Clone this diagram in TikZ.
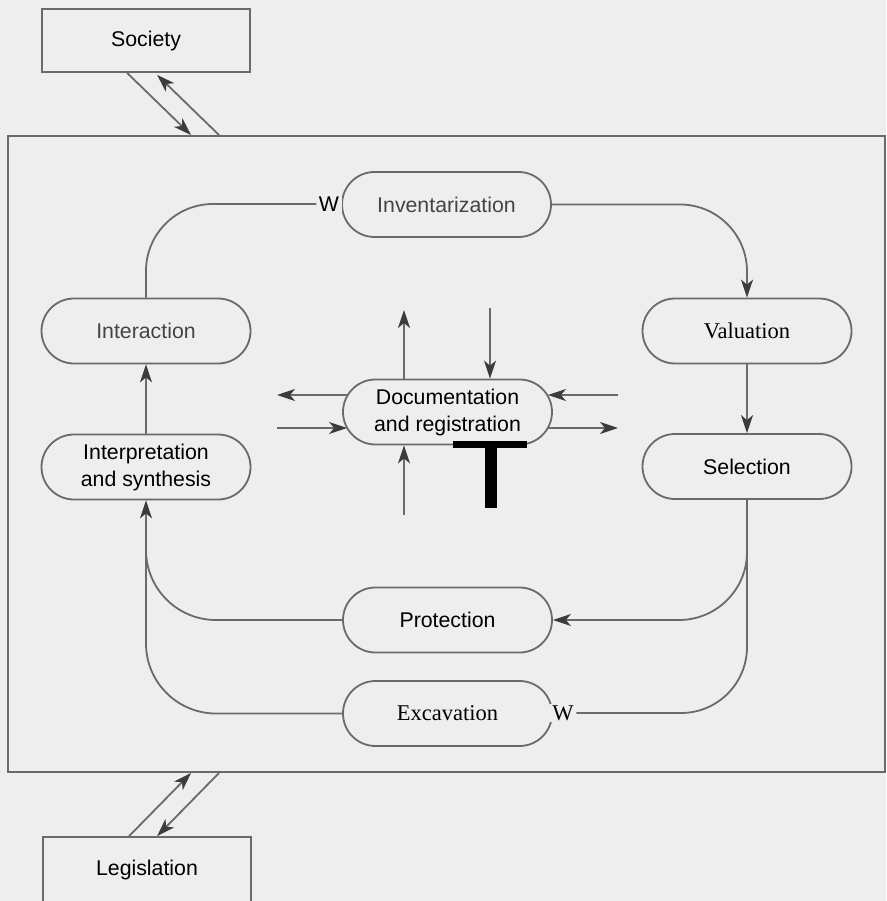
\documentclass[tikz,border=0pt]{standalone}
\usepackage{fontspec}
\newfontfamily\hv{Liberation Sans}
\newfontfamily\tm{Liberation Serif}
\usetikzlibrary{arrows.meta,calc,shapes.misc}
\definecolor{bg}{HTML}{EEEEEE}
\definecolor{lc}{HTML}{6A6A6A}
\definecolor{ac}{HTML}{3C3C3C}
\definecolor{tg}{HTML}{444444}
\begin{document}
\begin{tikzpicture}[x=1pt,y=-1pt,
  every node/.style={font=\hv\fontsize{21.3}{27}\selectfont},
  serif/.style={font=\tm\fontsize{22.5}{27}\selectfont},
  ln/.style={draw=lc, line width=1.8pt},
  arr/.style={ln, -{Stealth[length=18pt,width=12pt,inset=5pt,color=ac]}},
  stad/.style={rounded rectangle, draw=lc, line width=1.8pt, minimum width=209pt,
    minimum height=65pt, inner sep=0pt, align=center},
  box/.style={draw=lc, line width=1.8pt, minimum width=208pt, minimum height=63pt, inner sep=0pt},
  wst/.style={fill=bg, inner sep=1pt, inner xsep=2.5pt}
]
\useasboundingbox (0,0) rectangle (886,901);
\fill[bg] (0,0) rectangle (886,901);

% outer boxes
\node[box] (soc) at (146,40.5) {Society};
\node[box, minimum height=66pt] (leg) at (147,870) {Legislation};
\node[draw=lc, line width=1.8pt, minimum width=877pt, minimum height=636pt, inner sep=0pt] (frame) at (446.5,454) {};

% process nodes
\node[stad, text=tg] (inv) at (446.5,204.5) {Inventarization};
\node[stad, serif] (val) at (747,331) {Valuation};
\node[stad] (sel) at (747,466.5) {Selection};
\node[stad, text=tg] (int) at (146,331) {Interaction};
\node[stad] (interp) at (146,467) {Interpretation\\and synthesis};
\node[stad] (doc) at (447.5,412) {Documentation\\and registration};
\node[stad] (prot) at (447.5,620) {Protection};
\node[stad, serif] (exc) at (447.5,713.5) {Excavation};

\node[wst] (winv) at (329,204) {W};
\node[wst, serif] (wexc) at (563,713) {W};

% main cycle
\draw[arr, rounded corners=67pt] (inv.east) -| (val.north);
\draw[arr] (val.south) -- (sel.north);
\draw[ln, rounded corners=66pt] (sel.south) |- (wexc.east);
\coordinate (br) at (747,548);
\draw[arr, rounded corners=68pt] (br) |- (prot.east);
\draw[arr, rounded corners=70pt] (exc.west) -| (interp.south);
\coordinate (bl) at (146,548);
\draw[ln, rounded corners=70pt] (prot.west) -| (bl);
\draw[arr] (interp.north) -- (int.south);
\draw[ln, rounded corners=67pt] (int.north) |- (winv.west);

% documentation arrows
\coordinate (dU) at (404,310);
\draw[arr] (doc.north -| dU) -- (dU);
\coordinate (dD) at (490,308);
\draw[arr] (dD) -- (doc.north -| dD);
\coordinate (dB) at (404,515);
\draw[arr] (dB) -- (doc.south -| dB);
\coordinate (dL1) at (277,395);
\coordinate (dL2) at (277,428);
\coordinate (dR1) at (618,395);
\coordinate (dR2) at (618,428);
\draw[arr] ($(doc.west |- dL1)+(5,0)$) -- (dL1);
\draw[arr] (dL2) -- ($(doc.west |- dL2)+(5,0)$);
\draw[arr] (dR1) -- ($(doc.east |- dR1)+(-5,0)$);
\draw[arr] ($(doc.east |- dR2)+(-5,0)$) -- (dR2);

% black T mark
\fill[black] (453,441) rectangle (527,448);
\fill[black] (485,441) rectangle (497,508);

% society and legislation links
\draw[arr] ($(soc.south west)+(86,0)$) -- ($(frame.north west)+(184,0)$);
\draw[arr] ($(frame.north west)+(212,0)$) -- ($(soc.south west)+(116,2)$);
\draw[arr] ($(leg.north west)+(87,0)$) -- ($(frame.south west)+(184,0)$);
\draw[arr] ($(frame.south west)+(212,0)$) -- ($(leg.north west)+(115,0)$);
\end{tikzpicture}
\end{document}
